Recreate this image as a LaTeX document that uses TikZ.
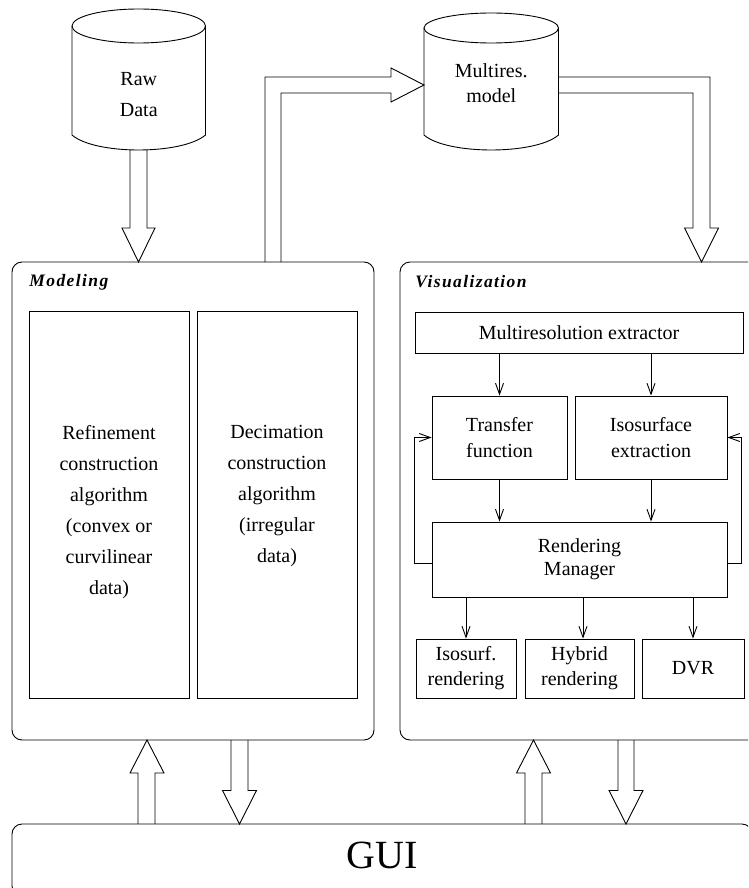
\documentclass[tikz,border=0pt]{standalone}
\usepackage{fontspec}
\setmainfont{Liberation Serif}
\newfontfamily\lblfont[LetterSpace=8]{Liberation Serif}
\usetikzlibrary{arrows.meta}
\tikzset{
  pane/.style={draw, rectangle, rounded corners=10pt, inner sep=0pt},
  box/.style={draw, rectangle, inner sep=0pt, align=center, font=\fontsize{20}{25}\selectfont},
  txt/.style={inner sep=0pt, align=center, font=\fontsize{20}{31}\selectfont},
  panelabel/.style={inner sep=0pt, anchor=west, font=\fontsize{17.5}{20}\lblfont\bfseries\itshape},
  flow/.style={-{Straight Barb[length=11pt,width=8pt]}},
  hollow/.style={draw, line join=miter}
}
\begin{document}
\begin{tikzpicture}[x=1pt,y=-1pt,line width=0.9pt]
\useasboundingbox (0,0) rectangle (748,888);
\clip (0,0) rectangle (748,888);

% cylinders
\draw (72,26) -- (72,135) .. controls (95,155) and (182,155) .. (205.5,135) -- (205.5,26);
\draw (138.75,26) ellipse [x radius=66.75, y radius=17];
\node[txt] (raw) at (138.75,94.5) {Raw\\Data};

\draw (424,28) -- (424,135) .. controls (447,155) and (535.5,155) .. (558.5,135) -- (558.5,28);
\draw (491.25,28) ellipse [x radius=67.25, y radius=15];
\node[txt, font=\fontsize{20}{25.5}\selectfont] (mres) at (491.25,83) {Multires.\\model};

% panes
\node[pane, minimum width=362pt, minimum height=478pt] (model) at (193,501) {};
\node[pane, minimum width=358pt, minimum height=478pt] (vis) at (579,501) {};
\node[pane, minimum width=740pt, minimum height=72pt, text depth=10pt,
      font=\fontsize{40}{44}\selectfont] (gui) at (382,860) {GUI};

\node[panelabel] (modlbl) at (29,282) {Modeling};
\node[panelabel] (vislbl) at (415,282) {Visualization};

% modeling boxes
\node[box, minimum width=160pt, minimum height=387pt] (refine) at (109,504.5) {};
\node[box, minimum width=160pt, minimum height=387pt] (decim) at (277,504.5) {};
\node[txt, anchor=north] (refinetxt) at (109,425) {Refinement\\construction\\algorithm\\(convex or\\curvilinear\\data)};
\node[txt, anchor=north] (decimtxt) at (277,425) {Decimation\\construction\\algorithm\\(irregular\\data)};

% visualization boxes
\node[box, minimum width=328pt, minimum height=41pt] (extr) at (579,332.5) {Multiresolution extractor};
\node[box, minimum width=135pt, minimum height=83pt, font=\fontsize{20}{26}\selectfont] (transf) at (499.5,437.5) {Transfer\\function};
\node[box, minimum width=152pt, minimum height=83pt, font=\fontsize{20}{26}\selectfont] (isoext) at (651,437.5) {Isosurface\\extraction};
\node[box, minimum width=295pt, minimum height=75pt, font=\fontsize{20}{23}\selectfont] (rm) at (579.5,559.5) {Rendering\\Manager};
\node[box, minimum width=100pt, minimum height=59pt] (isor) at (466,668.5) {Isosurf.\\rendering};
\node[box, minimum width=109pt, minimum height=59pt] (hyb) at (579.5,668.5) {Hybrid\\rendering};
\node[box, minimum width=102pt, minimum height=59pt] (dvr) at (693,668.5) {DVR};

% thin connectors
\draw[flow] (extr.south -| transf.north) -- (transf.north);
\draw[flow] (extr.south -| isoext.north) -- (isoext.north);
\draw[flow] (transf.south) -- (transf.south |- rm.north);
\draw[flow] (isoext.south) -- (isoext.south |- rm.north);
\draw[flow] (rm.south -| isor.north) -- (isor.north);
\draw[flow] ([xshift=3.5pt]hyb.north |- rm.south) -- ([xshift=3.5pt]hyb.north);
\draw[flow] (rm.south -| dvr.north) -- (dvr.north);
\draw[flow] ([yshift=-3.5pt]rm.west) -- ++(-17,0) |- (transf.west);
\draw[flow] ([yshift=-3.5pt]rm.east) -- ++(14,0) |- (isoext.east);

% hollow block arrows
\draw[hollow] (130,150) -- (130,228) -- (122,228) -- (138.5,262) -- (155,228) -- (147,228) -- (147,150);
\draw[hollow] (265,262) -- (265,77) -- (391,77) -- (391,68) -- (424,85) -- (391,102) -- (391,93) -- (281,93) -- (281,262);
\draw[hollow] (558.5,77) -- (710,77) -- (710,228) -- (718.5,228) -- (701.5,262) -- (684.5,228) -- (693,228) -- (693,93) -- (558.5,93);
\draw[hollow] (138,824) -- (138,773) -- (130,773) -- (147,740) -- (164,773) -- (155,773) -- (155,824);
\draw[hollow] (231,740) -- (231,790.5) -- (222.5,790.5) -- (239.5,824) -- (256.5,790.5) -- (248,790.5) -- (248,740);
\draw[hollow] (525,824) -- (525,773) -- (516.5,773) -- (533.5,740) -- (550.5,773) -- (542,773) -- (542,824);
\draw[hollow] (618,740) -- (618,790.5) -- (609,790.5) -- (626,824) -- (643,790.5) -- (634,790.5) -- (634,740);
\end{tikzpicture}
\end{document}
